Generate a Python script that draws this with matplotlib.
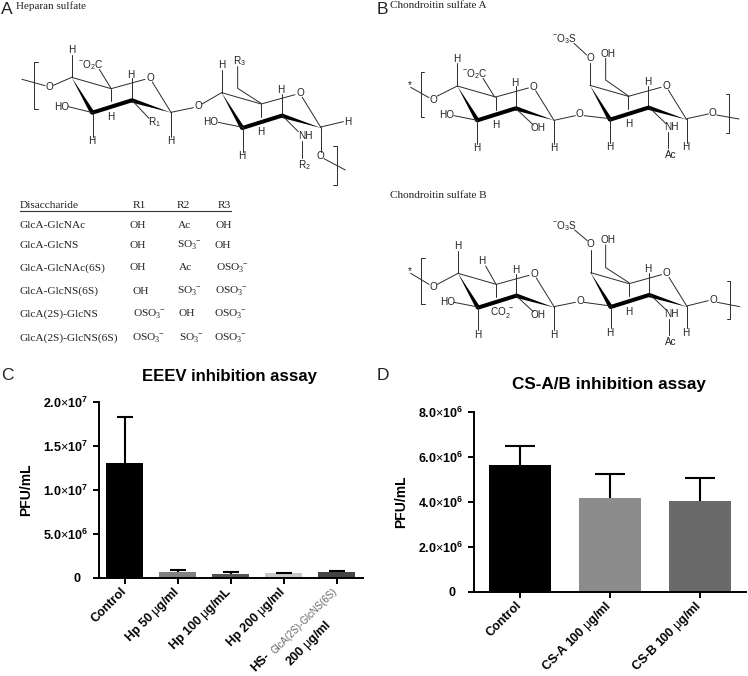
import matplotlib
matplotlib.use("Agg")
import matplotlib.pyplot as plt

plt.rcParams['font.family'] = ['Liberation Sans', 'DejaVu Sans']
plt.rcParams['mathtext.fontset'] = 'custom'
plt.rcParams['mathtext.rm'] = 'Liberation Sans'
plt.rcParams['mathtext.it'] = 'Liberation Sans'
plt.rcParams['mathtext.bf'] = 'Liberation Sans:bold'

# Panel C values
eeev_labels = ["Control", r"Hp 50 $\mu$g/ml", r"Hp 100 $\mu$g/mL", r"Hp 200 $\mu$g/ml", ""]
eeev_values = [1.31e7, 6.8e5, 4.2e5, 5.3e5, 6.4e5]
eeev_errors = [5.16e6, 1.9e5, 3.0e5, 0.7e5, 1.9e5]
eeev_colors = ['#000000', '#808080', '#555555', '#c8c8c8', '#444444']
eeev_ticks = [0, 5e6, 1e7, 1.5e7, 2e7]
eeev_ticklabels = ["0  ", r"$\mathbf{5.0}{\times}\mathbf{10^{6}}$", r"$\mathbf{1.0}{\times}\mathbf{10^{7}}$",
                   r"$\mathbf{1.5}{\times}\mathbf{10^{7}}$", r"$\mathbf{2.0}{\times}\mathbf{10^{7}}$"]

# Panel D values
cs_labels = ["Control", r"CS-A 100 $\mu$g/ml", r"CS-B 100 $\mu$g/ml"]
cs_values = [5.65e6, 4.155e6, 4.02e6]
cs_errors = [0.81e6, 1.065e6, 1.05e6]
cs_colors = ['#000000', '#8c8c8c', '#6a6a6a']
cs_ticks = [0, 2e6, 4e6, 6e6, 8e6]
cs_ticklabels = ["0  ", r"$\mathbf{2.0}{\times}\mathbf{10^{6}}$", r"$\mathbf{4.0}{\times}\mathbf{10^{6}}$",
                 r"$\mathbf{6.0}{\times}\mathbf{10^{6}}$", r"$\mathbf{8.0}{\times}\mathbf{10^{6}}$"]

# Table in panel A: text, then x of each column, y of each row
sub3 = r"$\mathregular{SO_3^{\ -}}$"
osub3 = r"$\mathregular{OSO_3^{\ -}}$"
table_names = ["GlcA-GlcNAc", "GlcA-GlcNS", "GlcA-GlcNAc(6S)", "GlcA-GlcNS(6S)", "GlcA(2S)-GlcNS", "GlcA(2S)-GlcNS(6S)"]
table_r1 = ["OH", "OH", "OH", "OH", osub3, osub3]
table_r2 = ["Ac", sub3, "Ac", sub3, "OH", sub3]
table_r3 = ["OH", "OH", osub3, osub3, osub3, osub3]
table_y = [225, 245, 268, 291, 314, 338]
table_x1 = [130, 130, 130, 133, 133, 132]
table_x2 = [178, 177, 179, 177, 179, 179]
table_x3 = [216, 215, 216, 215, 214, 214]


fig = plt.figure(figsize=(7.48, 6.76), dpi=100)

# Overlay in picture pixels for the drawn structures and loose text
over = fig.add_axes([0, 0, 1, 1])
over.set_xlim(0, 748)
over.set_ylim(676, 0)
over.axis('off')


def add_bonds(ox, oy, bonds):
    for b in bonds:
        xs = [ox + v / 3 for v in b[0::2]]
        ys = [oy + v / 3 for v in b[1::2]]
        over.plot(xs, ys, color='#2a2a2a', lw=0.7, solid_capstyle='round')


def add_atoms(ox, oy, atoms):
    for x, y, s in atoms:
        over.text(ox + x / 3, oy + y / 3, s, fontsize=7.2, ha='center', va='center', color='#222222')


def wedge(ox, oy, x1, y1, x2, y2, w):
    # thin at point 1, w zoom-pixels wide at point 2
    dx, dy = x2 - x1, y2 - y1
    n = (dx * dx + dy * dy) ** 0.5
    px, py = -dy / n * w / 2, dx / n * w / 2
    xs = [x1, x2 + px, x2 - px]
    ys = [y1, y2 + py, y2 - py]
    over.fill([ox + v / 3 for v in xs], [oy + v / 3 for v in ys], color='black', lw=0)


# Sugar ring, x0/y0 is the upper left ring carbon in 3x crop coordinates
def ring(ox, oy, x0, y0, s=1.0, h5=True):
    c5 = (x0 + 115 * s, y0 + 33 * s)
    c3 = (x0 + 60 * s, y0 + 103 * s)
    c2 = (x0 + 175 * s, y0 + 67 * s)
    c1 = (x0 + 290 * s, y0 + 103 * s)
    o = (x0 + 228 * s, y0 + 2 * s)
    add_bonds(ox, oy, [(x0, y0, c5[0], c5[1]),
                       (c5[0], c5[1], o[0] - 15, o[1] + 4),
                       (o[0] + 7, o[1] + 12, c1[0], c1[1]),
                       (c2[0], c2[1], c2[0], c2[1] - 66)])
    wedge(ox, oy, x0, y0, c3[0], c3[1], 13)
    wedge(ox, oy, c1[0], c1[1], c2[0], c2[1], 13)
    over.plot([ox + c3[0] / 3, ox + c2[0] / 3], [oy + c3[1] / 3, oy + c2[1] / 3],
              color='black', lw=2.9, solid_capstyle='round')
    add_atoms(ox, oy, [(o[0], o[1], "O"), (c2[0] - 3, c2[1] - 77, "H")])
    if h5:
        add_bonds(ox, oy, [(c5[0], c5[1], c5[0], c5[1] + 38)])
        add_atoms(ox, oy, [(c5[0], c5[1] + 84, "H")])


# Panel A structure
ring(0, 0, 215, 232, 1.03)
ring(0, 0, 665, 278, 1.03)
add_bonds(0, 0, [(66, 238, 135, 257), (115, 187, 103, 187, 103, 327, 115, 327), (160, 256, 215, 232),
                 (215, 165, 215, 232), (298, 208, 333, 265), (278, 338, 278, 410), (205, 320, 278, 338),
                 (397, 302, 447, 355), (513, 337, 513, 410), (513, 337, 580, 323), (606, 312, 665, 278),
                 (665, 210, 665, 278), (713, 200, 713, 265, 783, 310), (728, 382, 728, 455),
                 (655, 367, 728, 382), (845, 345, 895, 395), (905, 422, 905, 475), (962, 381, 1030, 365),
                 (962, 381, 962, 455), (972, 476, 1036, 510), (1000, 437, 1010, 437, 1010, 556, 1000, 556)])
add_atoms(0, 0, [(148, 262, "O"), (215, 150, "H"), (272, 195, r"$\mathregular{^{-}O_2C}$"), (185, 320, "HO"),
                 (462, 365, r"$\mathregular{R_1}$"), (276, 424, "H"), (512, 424, "H"), (594, 319, "O"),
                 (665, 195, "H"), (718, 182, r"$\mathregular{R_3}$"), (632, 366, "HO"), (917, 407, "NH"),
                 (912, 495, r"$\mathregular{R_2}$"), (1043, 365, "H"), (726, 468, "H"), (962, 468, "O")])

# Chondroitin sulfate A
ring(374, 0, 250, 258)
ring(374, 0, 648, 256)
add_bonds(374, 0, [(110, 262, 165, 293), (190, 288, 250, 258), (250, 190, 250, 258), (327, 235, 362, 291),
                   (310, 361, 310, 432), (240, 347, 310, 361), (425, 325, 478, 375), (540, 361, 540, 432),
                   (540, 361, 604, 347), (630, 347, 708, 356), (648, 190, 648, 256), (600, 130, 638, 165),
                   (695, 175, 695, 240, 765, 289), (708, 356, 708, 430), (825, 322, 875, 370),
                   (882, 397, 882, 445), (938, 356, 1003, 342), (1028, 345, 1095, 357), (938, 356, 938, 428),
                   (150, 215, 140, 215, 140, 350, 150, 350), (1055, 283, 1065, 283, 1065, 400, 1055, 400)])
add_atoms(374, 0, [(107, 255, "*"), (177, 300, "O"), (248, 178, "H"), (303, 222, r"$\mathregular{^{-}O_2C}$"),
                   (218, 345, "HO"), (308, 445, "H"), (492, 385, "OH"), (538, 445, "H"), (617, 343, "O"),
                   (648, 175, "O"), (570, 117, r"$\mathregular{^{-}O_3S}$"), (703, 161, "OH"), (706, 442, "H"),
                   (892, 382, "NH"), (890, 465, "Ac"), (1016, 340, "O"), (936, 441, "H")])

# Chondroitin sulfate B
ring(374, 180, 252, 280, h5=False)
ring(374, 180, 650, 278)
add_bonds(374, 180, [(110, 280, 165, 313), (190, 313, 252, 280), (252, 212, 252, 280), (335, 258, 365, 311),
                     (365, 311, 365, 350), (312, 381, 312, 450), (240, 367, 312, 381), (425, 346, 478, 395),
                     (540, 380, 540, 450), (540, 380, 604, 367), (630, 367, 710, 378), (650, 210, 650, 278),
                     (602, 150, 640, 182), (695, 195, 695, 263, 765, 308), (710, 378, 710, 445),
                     (826, 342, 877, 390), (885, 418, 885, 465), (938, 378, 1003, 362), (1030, 367, 1097, 380),
                     (938, 378, 938, 445), (152, 235, 142, 235, 142, 373, 152, 373),
                     (1058, 303, 1068, 303, 1068, 418, 1058, 418)])
add_atoms(374, 180, [(107, 272, "*"), (178, 320, "O"), (250, 198, "H"), (323, 242, "H"),
                     (385, 397, r"$\mathregular{CO_2^{\ -}}$"), (310, 465, "H"), (220, 365, "HO"), (493, 405, "OH"),
                     (538, 465, "H"), (618, 363, "O"), (650, 193, "O"), (570, 138, r"$\mathregular{^{-}O_3S}$"),
                     (703, 181, "OH"), (708, 460, "H"), (893, 402, "NH"), (890, 485, "Ac"), (1018, 360, "O"),
                     (936, 460, "H")])

# Panel letters and captions
for x, y, s in [(1, 10, "A"), (377, 10, "B"), (1, 375, "C"), (377, 375, "D")]:
    over.text(x, y, s, fontsize=12.5, ha='left', va='center', color='#222222')
serif = ['Liberation Serif', 'DejaVu Serif']
for x, y, s in [(16, 6, "Heparan sulfate"), (390, 5, "Chondroitin sulfate A"), (390, 195, "Chondroitin sulfate B")]:
    over.text(x, y, s, fontsize=8, family=serif, ha='left', va='center', color='#222222')

# Table
for x, s in [(20, "Disaccharide"), (133, "R1"), (177, "R2"), (218, "R3")]:
    over.text(x, 205, s, fontsize=8.2, family=serif, ha='left', va='center', color='#222222')
over.plot([20, 231], [211, 211], color='#333333', lw=0.8)
for i in range(len(table_names)):
    y = table_y[i]
    over.text(20, y, table_names[i], fontsize=8.2, family=serif, ha='left', va='center', color='#222222')
    over.text(table_x1[i], y, table_r1[i], fontsize=8.2, family=serif, ha='left', va='center', color='#222222')
    over.text(table_x2[i], y, table_r2[i], fontsize=8.2, family=serif, ha='left', va='center', color='#222222')
    over.text(table_x3[i], y, table_r3[i], fontsize=8.2, family=serif, ha='left', va='center', color='#222222')


def bar_panel(left, right, y0, ytop, xlim, ymax, values, errors, colors, width, cap, ticks, ticklabels, labels):
    ax = fig.add_axes([left / 748, (676 - y0) / 676, (right - left) / 748, (y0 - ytop) / 676])
    ax.patch.set_alpha(0)
    pos = list(range(len(values)))
    ax.bar(pos, values, width=width, color=colors)
    caps = ax.errorbar(pos, values, yerr=[[0] * len(values), errors], fmt='none', ecolor='black',
                       elinewidth=1.5, capsize=cap, capthick=1.5)[1]
    caps[0].set_visible(False) # only the upper cap shows
    ax.set_xlim(*xlim)
    ax.set_ylim(0, ymax)
    ax.spines['top'].set_visible(False)
    ax.spines['right'].set_visible(False)
    ax.spines['left'].set_linewidth(1.4)
    ax.spines['bottom'].set_linewidth(1.4)
    ax.set_yticks(ticks)
    ax.set_yticklabels(ticklabels, fontsize=9, fontweight='bold')
    ax.set_xticks(pos)
    ax.set_xticklabels(labels, rotation=45, ha='right', va='center', rotation_mode='anchor',
                       fontsize=9, fontweight='bold')
    ax.tick_params(axis='y', length=4, width=1.4, pad=4)
    ax.tick_params(axis='x', length=4.5, width=1.4, pad=4)
    return ax


bar_panel(99, 363, 578, 402, (-0.485, 4.5), 2e7, eeev_values, eeev_errors, eeev_colors, 0.71, 6,
          eeev_ticks, eeev_ticklabels, eeev_labels)
bar_panel(474, 745.7, 592, 411.7, (-0.511, 2.508), 8e6, cs_values, cs_errors, cs_colors, 0.697, 10.8,
          cs_ticks, cs_ticklabels, cs_labels)

# Two part label under the last bar of panel C
over.text(332, 586, "GlcA(2S)-GlcNS(6S)", fontsize=6.9, color='#666666', rotation=45, ha='right', va='top',
          rotation_mode='anchor')
over.text(264, 650, "HS-", fontsize=9, fontweight='bold', rotation=45, ha='right', va='top', rotation_mode='anchor')
over.text(324, 617, r"200 $\mu$g/ml", fontsize=9, fontweight='bold', rotation=45, ha='right', va='top',
          rotation_mode='anchor')

# Titles and y labels
over.text(230, 376, "EEEV inhibition assay", fontsize=12.1, fontweight='bold', ha='center', va='center')
over.text(609, 385, "CS-A/B inhibition assay", fontsize=12.3, fontweight='bold', ha='center', va='center')
over.text(26, 490, "PFU/mL", fontsize=10, fontweight='bold', rotation=90, ha='center', va='center')
over.text(401, 502, "PFU/mL", fontsize=10, fontweight='bold', rotation=90, ha='center', va='center')

fig.savefig("out.png", dpi=100)
